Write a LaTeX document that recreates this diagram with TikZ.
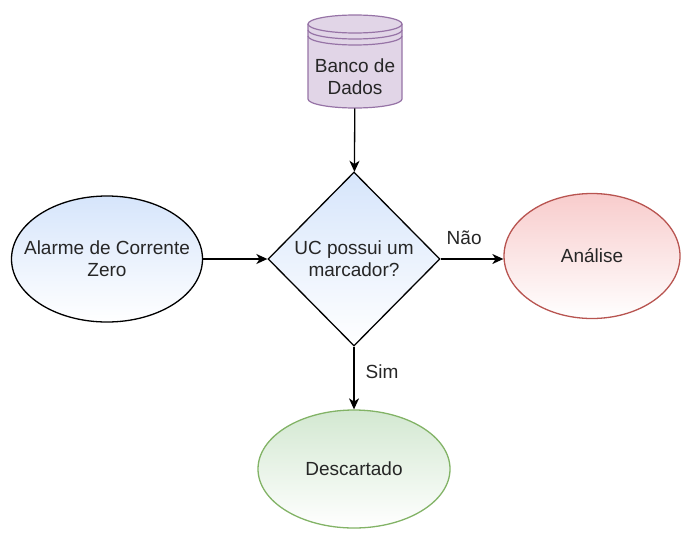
\documentclass[tikz,border=0pt]{standalone}
\usepackage{fontspec}
\setmainfont{Liberation Sans}
\usetikzlibrary{shapes.geometric,arrows.meta}
\definecolor{bluefill}{RGB}{214,229,251}
\definecolor{redfill}{RGB}{248,204,204}
\definecolor{redline}{RGB}{184,84,80}
\definecolor{greenfill}{RGB}{211,232,209}
\definecolor{greenline}{RGB}{130,179,102}
\definecolor{purplefill}{RGB}{225,213,231}
\definecolor{purpleline}{RGB}{150,115,166}
\newcommand{\fs}{\fontsize{9.5}{11.2}\selectfont}

\begin{document}
\begin{tikzpicture}[x=0.5pt,y=0.5pt,
   txt/.style={font=\fs,align=center,text=black!85},
   oval/.style={txt,ellipse,draw,line width=0.65pt,inner xsep=-30pt,inner ysep=0pt},
   arr/.style={-{Stealth[length=5.5pt,width=5pt,inset=1.6pt]},line width=0.65pt},
   lbl/.style={font=\fs,text=black!85,inner sep=0pt}]
   \useasboundingbox (0,0) rectangle (683,532);
   \fill[purplefill] (308,508) -- (308,433) arc[start angle=180,end angle=360,x radius=23.5pt,y radius=4.5pt] -- (402,508) -- cycle;
   \draw[purpleline,line width=0.6pt] (308,508) -- (308,433) arc[start angle=180,end angle=360,x radius=23.5pt,y radius=4.5pt] -- (402,508);
   \draw[purpleline,line width=0.6pt,fill=purplefill] (355,508) ellipse[x radius=23.5pt,y radius=4.5pt];
   \draw[purpleline,line width=0.6pt] (308,502) arc[start angle=180,end angle=360,x radius=23.5pt,y radius=4.5pt];
   \draw[purpleline,line width=0.6pt] (308,496) arc[start angle=180,end angle=360,x radius=23.5pt,y radius=4.5pt];
   \node[minimum width=47pt,minimum height=46.5pt,inner sep=0pt] (db) at (355,470.5) {};
   \node[txt] (dbtxt) at (355,455) {Banco de\\Dados};
   \node[txt,diamond,draw,line width=0.65pt,inner sep=0pt,aspect=1,minimum width=86pt,minimum height=87pt,
      top color=bluefill,bottom color=white] (dec) at (354,273) {UC possui um\\marcador?};
   \node[oval,minimum width=95.5pt,minimum height=63pt,top color=bluefill,bottom color=white] (alarm) at (107,273) {Alarme de Corrente\\Zero};
   \node[oval,draw=redline,minimum width=88pt,minimum height=62.5pt,top color=redfill,bottom color=white] (analise) at (592,276) {Análise};
   \node[oval,draw=greenline,minimum width=96pt,minimum height=59pt,top color=greenfill,bottom color=white] (desc) at (354,63) {Descartado};
   \draw[arr] (db) -- (dec);
   \draw[arr] (alarm) -- (dec);
   \draw[arr] (dec.east) -- (dec.east -| analise.west) node[lbl,pos=0.375,above=7pt] {Não};
   \draw[arr] (dec) -- (desc) node[lbl,pos=0.4,right=5.5pt] {Sim};
\end{tikzpicture}
\end{document}
